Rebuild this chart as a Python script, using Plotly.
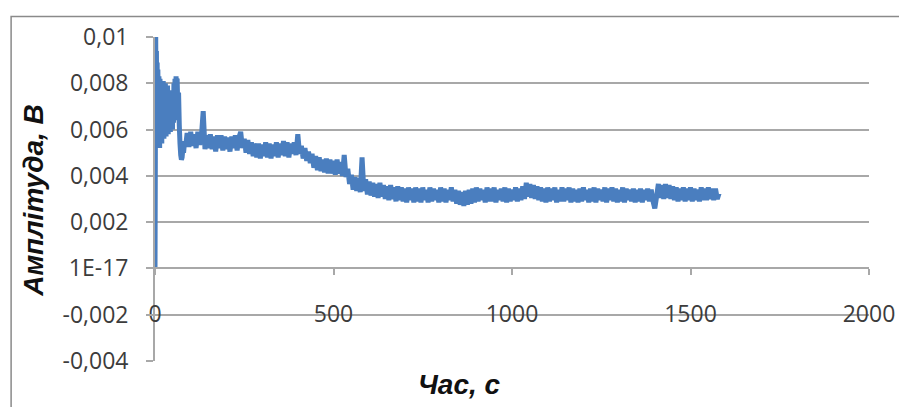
import plotly.graph_objects as go

# ---- data ----
time_early_s = [0, 2, 3, 4, 5, 6, 7, 8, 10, 11, 13, 14, 16, 17, 19, 20, 22, 23, 25, 26,
                28, 29, 31, 32, 34, 35, 37, 38, 40, 41, 43, 44, 46, 47, 49, 50, 52, 53,
                55, 56, 58, 59, 61, 62, 64, 66, 68, 70, 72, 74, 76, 78, 80, 83, 86]
amp_early_mV = [0.0, 10.0, 6.0, 9.4, 5.4, 8.9, 5.6, 8.6, 5.3, 8.3, 5.2, 8.2, 5.5, 8.1, 5.4, 8.0,
                5.8, 8.1, 5.6, 7.8, 5.9, 8.0, 5.7, 7.6, 6.0, 7.9, 5.8, 7.4, 6.1, 7.7, 5.9, 7.3,
                6.2, 7.0, 6.0, 7.6, 6.3, 8.0, 6.4, 8.2, 6.6, 8.3, 6.5, 8.2, 6.8, 7.6, 6.2, 5.4,
                4.9, 4.7, 4.8, 5.2, 5.0, 5.5, 5.3]

time_main_s = list(range(90, 1585, 5))
amp_main_mV = [
    5.85, 5.25, 5.9, 5.3, 5.8, 5.2, 5.9, 5.35, 5.7, 6.8,         # 90-135
    5.15, 5.75, 5.2, 5.8, 5.15, 5.7, 5.05, 5.75, 5.2, 5.75,      # 140-185
    5.1, 5.7, 5.15, 5.65, 5.05, 5.7, 5.2, 5.75, 5.1, 5.65,       # 190-235
    5.9, 5.2, 5.6, 5.0, 5.55, 4.95, 5.45, 4.85, 5.4, 4.8,        # 240-285
    5.4, 4.75, 5.35, 4.85, 5.45, 4.8, 5.4, 4.75, 5.35, 4.85,     # 290-335
    5.45, 4.8, 5.4, 4.9, 5.5, 4.85, 5.45, 4.8, 5.4, 4.95,        # 340-385
    5.45, 4.9, 5.8, 4.95, 5.3, 4.75, 5.2, 4.65, 5.05, 4.55,      # 390-435
    4.95, 4.35, 4.85, 4.25, 4.8, 4.2, 4.7, 4.15, 4.75, 4.1,      # 440-485
    4.7, 4.1, 4.65, 4.05, 4.7, 4.1, 4.6, 4.0, 4.9, 3.95,         # 490-535
    4.3, 3.65, 4.05, 3.4, 3.95, 3.35, 3.9, 3.3, 4.8, 3.35,       # 540-585
    3.85, 3.2, 3.75, 3.15, 3.7, 3.1, 3.65, 3.05, 3.7, 3.1,       # 590-635
    3.6, 3.0, 3.55, 2.95, 3.6, 3.0, 3.5, 2.9, 3.55, 2.95,        # 640-685
    3.5, 2.9, 3.45, 2.85, 3.5, 2.95, 3.45, 2.85, 3.5, 2.9,       # 690-735
    3.45, 2.85, 3.5, 2.95, 3.4, 2.85, 3.5, 2.9, 3.45, 2.95,      # 740-785
    3.4, 2.85, 3.5, 2.9, 3.45, 2.85, 3.4, 2.95, 3.5, 2.9,        # 790-835
    3.4, 2.8, 3.35, 2.75, 3.3, 2.7, 3.35, 2.75, 3.4, 2.8,        # 840-885
    3.45, 2.85, 3.5, 2.9, 3.45, 2.95, 3.4, 2.85, 3.5, 2.9,       # 890-935
    3.45, 2.9, 3.5, 2.85, 3.4, 2.95, 3.45, 2.9, 3.5, 2.85,       # 940-985
    3.45, 2.9, 3.4, 2.95, 3.5, 2.9, 3.45, 2.95, 3.55, 3.0,       # 990-1035
    3.7, 3.1, 3.65, 3.05, 3.6, 3.0, 3.55, 2.95, 3.5, 2.9,        # 1040-1085
    3.45, 2.85, 3.5, 2.9, 3.45, 2.95, 3.5, 2.85, 3.4, 2.9,       # 1090-1135
    3.5, 2.9, 3.45, 2.95, 3.5, 2.85, 3.45, 2.9, 3.4, 2.85,       # 1140-1185
    3.45, 2.9, 3.5, 2.95, 3.4, 2.85, 3.45, 2.9, 3.5, 2.85,       # 1190-1235
    3.45, 2.95, 3.4, 2.9, 3.5, 2.85, 3.45, 2.95, 3.5, 2.9,       # 1240-1285
    3.45, 2.85, 3.4, 2.9, 3.5, 2.85, 3.45, 2.95, 3.4, 2.9,       # 1290-1335
    3.45, 2.85, 3.4, 2.9, 3.45, 2.85, 3.4, 2.95, 3.45, 2.9,      # 1340-1385
    3.4, 2.9, 2.6, 3.1, 3.65, 3.05, 3.6, 3.0, 3.65, 3.05,        # 1390-1435
    3.6, 3.0, 3.55, 2.95, 3.5, 2.9, 3.45, 2.95, 3.5, 2.9,        # 1440-1485
    3.45, 2.95, 3.5, 2.9, 3.45, 2.95, 3.4, 2.9, 3.5, 2.95,       # 1490-1535
    3.45, 2.95, 3.5, 3.0, 3.45, 2.95, 3.45, 3.0, 3.25,           # 1540-1580
]
assert len(time_main_s) == len(amp_main_mV)

y_tick_vals = [0.01, 0.008, 0.006, 0.004, 0.002, 0.0, -0.002, -0.004]
y_tick_text = ["0,01", "0,008", "0,006", "0,004", "0,002", "1E-17", "-0,002", "-0,004"]
x_tick_vals = [0, 500, 1000, 1500, 2000]
x_tick_text = ["0", "500", "1000", "1500", "2000"]

x_title = "Час, с"
y_title = "Амплітуда, В"

# ---- figure ----
t_all = time_early_s + time_main_s
v_all = [v / 1000.0 for v in amp_early_mV + amp_main_mV]

GRID = "#a8a8a8"
TXT = "#3c3c3c"
fig = go.Figure()
fig.add_trace(go.Scatter(x=t_all, y=v_all, mode="lines",
                         line=dict(color="#4A7EBF", width=5, simplify=False),
                         showlegend=False, hoverinfo="skip"))

# the page body adds an 8px offset; figure is sized so the whole page is 907x407
y0_frac = 0.004 / 0.014
fig.update_layout(
    width=899, height=399,
    margin=dict(l=147, r=30, t=22, b=46),
    paper_bgcolor="white", plot_bgcolor="white",
    font=dict(family="Open Sans", size=23, color=TXT),
    xaxis=dict(range=[0, 2000], tickvals=x_tick_vals, ticktext=x_tick_text,
               showgrid=False, zeroline=False,
               showline=True, linecolor=GRID, linewidth=1.8,
               ticks="outside", ticklen=6, tickwidth=1.5, tickcolor=GRID,
               anchor="free", position=y0_frac, ticklabelstandoff=19,
               tickfont=dict(family="Open Sans", size=23, color=TXT)),
    yaxis=dict(range=[-0.004, 0.01], tickvals=y_tick_vals, ticktext=y_tick_text,
               showgrid=True, gridcolor=GRID, gridwidth=1.8, zeroline=False,
               showline=True, linecolor=GRID, linewidth=1.8,
               ticks="outside", ticklen=7, tickwidth=1.5, tickcolor=GRID,
               ticklabelstandoff=13,
               tickfont=dict(family="Open Sans", size=23, color=TXT)),
    annotations=[
        dict(text=x_title, xref="paper", yref="paper", x=(463 - 155) / 722,
             y=(361 - 385) / 331, xanchor="center", yanchor="middle", showarrow=False,
             font=dict(family="Liberation Sans", size=28, color="#111111", weight="bold",
                       style="italic")),
        dict(text=y_title, xref="paper", yref="paper", x=(32 - 155) / 722,
             y=(361 - 197) / 331, xanchor="center", yanchor="middle", showarrow=False,
             textangle=-90,
             font=dict(family="Liberation Sans", size=28, color="#111111", weight="bold",
                       style="italic")),
    ],
    shapes=[
        dict(type="rect", xref="paper", yref="paper",
             x0=(9.5 - 155) / 722, x1=(930 - 155) / 722,
             y0=(361 - 430) / 331, y1=(361 - 9) / 331,
             line=dict(color="#8a8a8a", width=1.5), layer="below"),
    ],
)

fig.write_html("out.html")
